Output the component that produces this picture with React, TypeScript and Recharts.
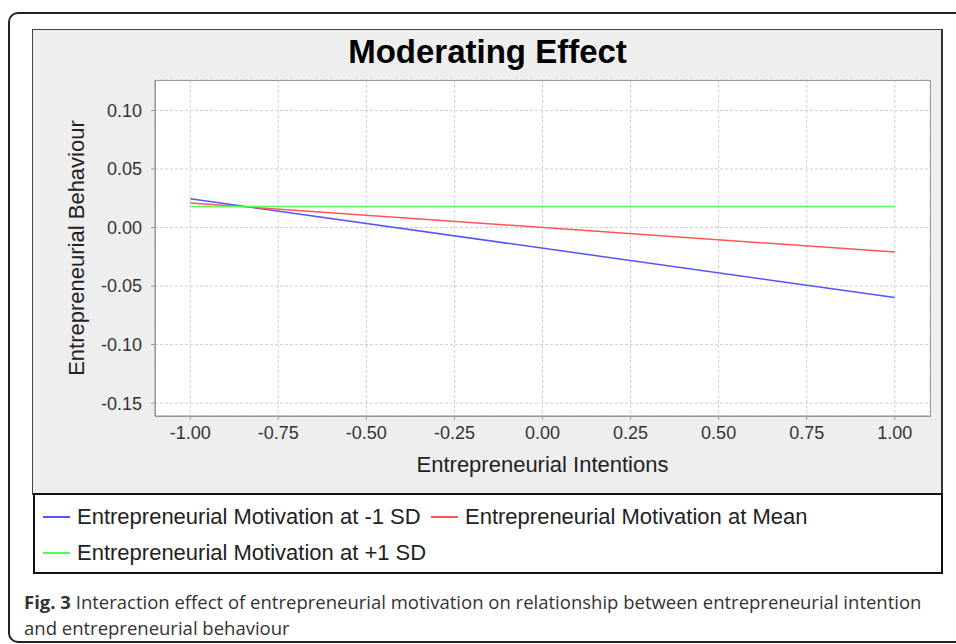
import React from "react";
import { LineChart, Line, XAxis, YAxis, CartesianGrid } from "recharts";

const xValues = [-1, 1];
const lowMotivation = [0.0245, -0.0598];
const meanMotivation = [0.021, -0.021];
const highMotivation = [0.018, 0.018];

const xTicks = [-1, -0.75, -0.5, -0.25, 0, 0.25, 0.5, 0.75, 1];
const yTicks = [-0.15, -0.1, -0.05, 0, 0.05, 0.1];

const seriesNames = [
    "Entrepreneurial Motivation at -1 SD",
    "Entrepreneurial Motivation at Mean",
    "Entrepreneurial Motivation at +1 SD",
];
const seriesColors = ["#5555ff", "#ff5555", "#55ff55"];

const data = xValues.map((x, i) => ({
    x,
    low: lowMotivation[i],
    mean: meanMotivation[i],
    high: highMotivation[i],
}));

const FONT = "'Liberation Sans', Arial, sans-serif";

export default function App() {
    const legendPos = [
        { left: 8, top: 22 },
        { left: 396, top: 22 },
        { left: 8, top: 58 },
    ];

    return (
        <div style={{ position: "absolute", left: 0, top: 0, width: 956, height: 644, overflow: "hidden", background: "#fff", fontFamily: FONT }}>
            {/* outer figure frame */}
            <div style={{ position: "absolute", left: 8, top: 12, width: 1000, height: 631, border: "2px solid #222", borderRadius: 10, boxSizing: "border-box" }} />

            {/* chart panel */}
            <div style={{ position: "absolute", left: 32, top: 29, width: 911, height: 466, background: "#eeeeee", border: "1px solid #444", borderRight: "2px solid #333", boxSizing: "border-box" }} />

            <div style={{ position: "absolute", left: 33, top: 30 }}>
                <LineChart width={909} height={464} data={data} margin={{ top: 50, right: 12, bottom: 0, left: 0 }}>
                    <CartesianGrid fill="#ffffff" stroke="#cfcfcf" strokeDasharray="3 2" />
                    <XAxis
                        dataKey="x"
                        type="number"
                        domain={[-1.1, 1.1]}
                        allowDataOverflow
                        ticks={xTicks}
                        tickFormatter={(v) => v.toFixed(2)}
                        height={78}
                        tickSize={4}
                        tickMargin={6}
                        stroke="#999"
                        tick={{ fill: "#333", fontSize: 18, fontFamily: FONT }}
                    />
                    <YAxis
                        type="number"
                        domain={[-0.161, 0.126]}
                        allowDataOverflow
                        ticks={yTicks}
                        tickFormatter={(v) => v.toFixed(2)}
                        width={122}
                        tickSize={4}
                        tickMargin={9}
                        stroke="#999"
                        tick={{ fill: "#333", fontSize: 18, fontFamily: FONT }}
                    />
                    <Line dataKey="low" name={seriesNames[0]} stroke={seriesColors[0]} strokeWidth={1.5} dot={false} isAnimationActive={false} />
                    <Line dataKey="mean" name={seriesNames[1]} stroke={seriesColors[1]} strokeWidth={1.5} dot={false} isAnimationActive={false} />
                    <Line dataKey="high" name={seriesNames[2]} stroke={seriesColors[2]} strokeWidth={1.5} dot={false} isAnimationActive={false} />
                </LineChart>
            </div>

            {/* plot border */}
            <div style={{ position: "absolute", left: 155, top: 80, width: 776, height: 337, border: "1px solid #999", boxSizing: "border-box", pointerEvents: "none" }} />

            {/* title */}
            <div style={{ position: "absolute", left: 33, width: 909, top: 33, textAlign: "center", fontSize: 33, fontWeight: "bold", color: "#000", lineHeight: "38px" }}>
                Moderating Effect
            </div>

            {/* axis labels */}
            <div style={{ position: "absolute", left: 155, width: 775, top: 452, textAlign: "center", fontSize: 22, color: "#222", lineHeight: "26px" }}>
                Entrepreneurial Intentions
            </div>
            <div style={{ position: "absolute", left: 77, top: 248, transform: "translate(-50%, -50%) rotate(-90deg)", fontSize: 22, color: "#222", whiteSpace: "nowrap", lineHeight: "26px" }}>
                Entrepreneurial Behaviour
            </div>

            {/* legend */}
            <div style={{ position: "absolute", left: 33, top: 493, width: 910, height: 81, background: "#fff", border: "2px solid #111", boxSizing: "border-box" }}>
                {seriesNames.map((name, i) => (
                    <div key={name} style={{ position: "absolute", left: legendPos[i].left, top: legendPos[i].top - 13, display: "flex", alignItems: "center", height: 26, whiteSpace: "nowrap" }}>
                        <div style={{ width: 27, height: 2, background: seriesColors[i], marginRight: 7 }} />
                        <span style={{ fontSize: 22, color: "#222" }}>{name}</span>
                    </div>
                ))}
            </div>

            {/* caption */}
            <div style={{ position: "absolute", left: 24, top: 589, width: 900, fontFamily: "'Open Sans', sans-serif", fontSize: 18.5, lineHeight: "26px", color: "#333", whiteSpace: "nowrap" }}>
                <span style={{ fontWeight: 700 }}>Fig. 3</span>
                <span> Interaction effect of entrepreneurial motivation on relationship between entrepreneurial intention</span>
            </div>
            <div style={{ position: "absolute", left: 24, top: 615, width: 900, fontFamily: "'Open Sans', sans-serif", fontSize: 18.5, lineHeight: "26px", color: "#333", whiteSpace: "nowrap" }}>
                and entrepreneurial behaviour
            </div>
        </div>
    );
}
